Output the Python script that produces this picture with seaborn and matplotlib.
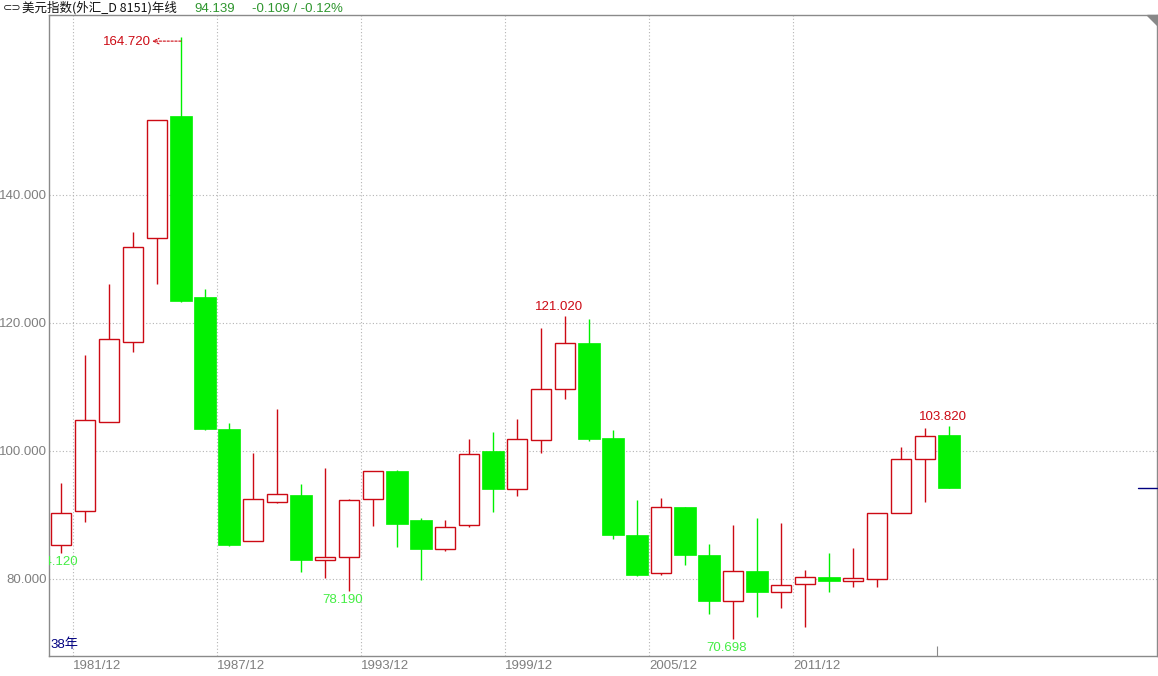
import matplotlib
matplotlib.use("Agg")
import matplotlib.pyplot as plt
import matplotlib.transforms as mtransforms
from matplotlib.patches import Polygon
import seaborn as sns
import pandas as pd

# ---- data (yearly candles, US Dollar Index) ----
years = list(range(1980, 2018))
opens = [85.26, 90.57, 104.6, 117.0, 133.2, 152.3, 124.0, 103.4, 85.9, 92.0,
         93.1, 82.9, 83.4, 92.45, 96.9, 89.2, 84.75, 88.4, 100.0, 94.0,
         101.7, 109.6, 116.8, 102.0, 86.9, 80.9, 91.25, 83.75, 76.5, 81.25,
         77.9, 79.2, 80.3, 79.75, 80.05, 90.3, 98.7, 102.55]
highs = [94.95, 115.0, 126.1, 134.2, 151.7, 164.72, 125.3, 104.4, 99.7, 106.5,
         94.8, 97.3, 92.5, 96.9, 97.1, 89.6, 89.2, 101.8, 103.0, 105.0,
         119.2, 121.02, 120.6, 103.3, 92.3, 92.6, 91.3, 85.4, 88.4, 89.6,
         88.7, 81.4, 84.0, 84.9, 90.3, 100.6, 103.56, 103.82]
lows = [84.12, 88.96, 104.6, 115.4, 126.1, 123.2, 103.3, 85.2, 85.9, 91.8,
        81.1, 80.2, 78.19, 88.3, 84.95, 79.9, 84.4, 88.1, 90.5, 93.0,
        99.7, 108.1, 101.6, 86.3, 80.4, 80.7, 82.2, 74.5, 70.698, 74.1,
        75.5, 72.5, 78.0, 78.8, 78.8, 90.3, 92.0, 94.14]
closes = [90.36, 104.8, 117.45, 131.8, 151.7, 123.5, 103.5, 85.36, 92.45, 93.2,
          83.0, 83.5, 92.3, 96.8, 88.6, 84.7, 88.1, 99.6, 94.1, 101.8,
          109.6, 116.8, 101.8, 86.8, 80.6, 91.2, 83.7, 76.5, 81.2, 77.9,
          79.0, 80.27, 79.75, 80.1, 90.3, 98.7, 102.3, 94.139]

tick_labels = ["1981/12", "1987/12", "1993/12", "1999/12", "2005/12", "2011/12"]
tick_years = [1981, 1987, 1993, 1999, 2005, 2011]
ytick_values = [80, 100, 120, 140]
last_price = 94.139
title_text = "美元指数(外汇_D 8151)年线"
price_text = "94.139"
change_text = "-0.109 / -0.12%"

df = pd.DataFrame({"year": years, "open": opens, "high": highs,
                   "low": lows, "close": closes})
df["pos"] = range(len(df))
df["up"] = df["close"] >= df["open"]

RED = "#cc0a14"
GREEN = "#00f000"
GRID = "#b4b4b4"
FRAME = "#8a8a8a"
LABEL_GRAY = "#7f7f7f"
FS = 9.5

sns.set_style("white")
plt.rcParams["font.family"] = ["Liberation Sans", "Noto Sans CJK SC", "DejaVu Sans"]

W, H = 1158, 676
fig = plt.figure(figsize=(W / 100, H / 100), dpi=100)
ax_l, ax_r, ax_t, ax_b = 49, 1157, 15, 656
ax = fig.add_axes([ax_l / W, 1 - ax_b / H, (ax_r - ax_l) / W, (ax_b - ax_t) / H])

# grid
for v in ytick_values:
    ax.axhline(v, color=GRID, lw=0.8, ls=(0, (1, 2)), zorder=0)
xt = [y - years[0] - 0.5 for y in tick_years]
for x in xt:
    ax.axvline(x, color=GRID, lw=0.8, ls=(0, (1, 2)), zorder=0)

# wicks
up = df[df["up"]]
dn = df[~df["up"]]
ax.vlines(up["pos"], up["low"], up["high"], color=RED, lw=1.0, zorder=2)
ax.vlines(dn["pos"], dn["low"], dn["high"], color=GREEN, lw=1.0, zorder=2)

bw = 0.86
ax.bar(up["pos"], (up["close"] - up["open"]).clip(lower=0.25), bottom=up["open"],
       width=bw, facecolor="white", edgecolor=RED, linewidth=1.0, zorder=3)
ax.bar(dn["pos"], dn["open"] - dn["close"], bottom=dn["close"],
       width=bw + 0.03, facecolor=GREEN, edgecolor=GREEN, linewidth=0.5, zorder=3)

ax.set_xlim(-0.5, 45.67)
ax.set_ylim(67.97, 168.1)

# axis ticks
ax.set_yticks(ytick_values, [f"{v:.3f}" for v in ytick_values])
ax.set_xticks(xt, tick_labels)
ax.tick_params(axis="y", length=0, pad=1.5, labelsize=FS, labelcolor=LABEL_GRAY)
ax.tick_params(axis="x", length=0, pad=3, labelsize=FS, labelcolor=LABEL_GRAY)
for lbl in ax.get_xticklabels():
    lbl.set_ha("left")

for s in ax.spines.values():
    s.set_color(FRAME)
    s.set_linewidth(1.0)
    s.set_visible(True)

# high / low annotations
hi = df["high"].idxmax()
ax.annotate("", xy=(hi - 1.2, df.loc[hi, "high"] - 0.7), xytext=(hi, df.loc[hi, "high"] - 0.7),
            arrowprops=dict(arrowstyle="->", color=RED, lw=0.8, ls=(0, (2, 1.5)),
                            shrinkA=0, shrinkB=0))
ax.annotate(f"{df.loc[hi, 'high']:.3f}", xy=(hi - 1.27, df.loc[hi, "high"]),
            xytext=(0, -4), textcoords="offset points", ha="right", va="center",
            color=RED, fontsize=FS)

for i in [21, 37]:
    ax.annotate(f"{df.loc[i, 'high']:.3f}", xy=(i - 0.25, df.loc[i, "high"]),
                xytext=(0, 7), textcoords="offset points", ha="center", va="center",
                color=RED, fontsize=FS)
for i in [12, 28]:
    ax.annotate(f"{df.loc[i, 'low']:.3f}", xy=(i - 0.25, df.loc[i, "low"]),
                xytext=(0, -7), textcoords="offset points", ha="center", va="center",
                color="#44ee44", fontsize=FS)
# first candle's low label, cut off by the left edge of the plot
ax.annotate(f"{df.loc[0, 'low']:.3f}", xy=(0.72, df.loc[0, "low"]),
            xytext=(0, -7), textcoords="offset points", ha="right", va="center",
            color="#44ee44", fontsize=FS, annotation_clip=False, clip_on=True)

# last price marker
trans = mtransforms.blended_transform_factory(ax.transAxes, ax.transData)
ax.plot([0.9825, 1.0], [last_price, last_price], color="#000080", lw=1.0,
        transform=trans, zorder=4, clip_on=False)
ax.vlines(36.5, 67.97, 69.5, color=FRAME, lw=0.8, zorder=1)

ax.text(0.001, 0.017, "38年", transform=ax.transAxes, color="#000080",
        fontsize=FS, ha="left", va="center",
        family=["Liberation Sans", "Noto Sans CJK SC"])

# header
fig.text(3 / W, 1 - 8 / H, "⊂⊃", fontsize=8, color="#222222", va="center", ha="left",
         family=["DejaVu Sans"])
fig.text(22 / W, 1 - 8 / H, title_text, fontsize=9, color="#111111", va="center", ha="left",
         family=["Noto Sans CJK SC", "DejaVu Sans"])
fig.text(194 / W, 1 - 9 / H, price_text, fontsize=9.5, color="#2e962e", va="center", ha="left")
fig.text(252 / W, 1 - 9 / H, change_text, fontsize=9.5, color="#2e962e", va="center", ha="left")

# corner triangle
fig.add_artist(Polygon([[1147 / W, 1 - 15 / H], [1157 / W, 1 - 15 / H], [1157 / W, 1 - 25 / H]],
                       closed=True, transform=fig.transFigure, color="#888888"))

fig.savefig("out.png", dpi=100)
